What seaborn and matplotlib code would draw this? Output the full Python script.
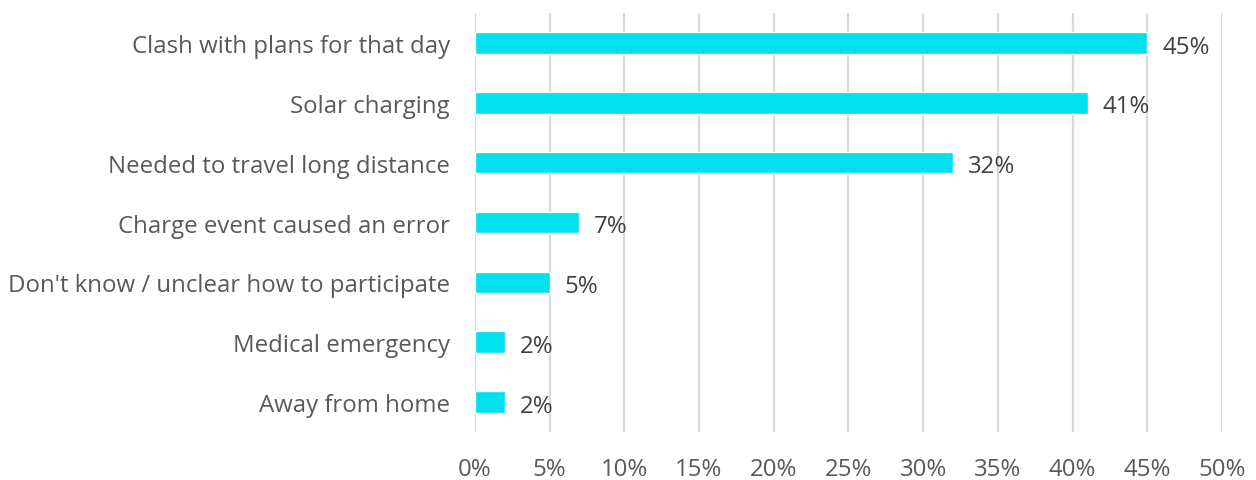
import matplotlib
matplotlib.use("Agg")
import matplotlib.pyplot as plt
import seaborn as sns
import pandas as pd

reasons = [
    "Clash with plans for that day",
    "Solar charging",
    "Needed to travel long distance",
    "Charge event caused an error",
    "Don't know / unclear how to participate",
    "Medical emergency",
    "Away from home",
]
shares = [45, 41, 32, 7, 5, 2, 2]
x_ticks = [0, 5, 10, 15, 20, 25, 30, 35, 40, 45, 50]

df = pd.DataFrame({"reason": reasons, "share": shares})

sns.set_theme(style="white")
plt.rcParams["font.family"] = ["Open Sans", "DejaVu Sans"]

fig = plt.figure(figsize=(12.56, 4.81), dpi=100)
ax = fig.add_axes([0.378, 0.0998, 0.595, 0.871])

sns.barplot(data=df, x="share", y="reason", color="#00E1EE", saturation=1,
            width=0.36, ax=ax, zorder=3)

ax.set_xlim(0, 50)
ax.set_ylim(len(reasons) - 0.5, -0.5)
ax.set_xticks(x_ticks)
ax.set_xticklabels([f"{t}%" for t in x_ticks])
ax.xaxis.grid(True, color="#D9D9D9", linewidth=1.6, zorder=0)
ax.set_axisbelow(True)
for s in ax.spines.values():
    s.set_visible(False)
ax.set_xlabel("")
ax.set_ylabel("")
ax.tick_params(axis="x", length=0, pad=18, labelsize=17.3, labelcolor="#595959")
ax.tick_params(axis="y", length=0, pad=18, labelsize=17.3, labelcolor="#595959")

for i, v in enumerate(shares):
    ax.text(v + 1.0, i + 0.06, f"{v}%", va="center", ha="left", fontsize=17.3,
            color="#404040")

fig.savefig("out.png", dpi=100)
